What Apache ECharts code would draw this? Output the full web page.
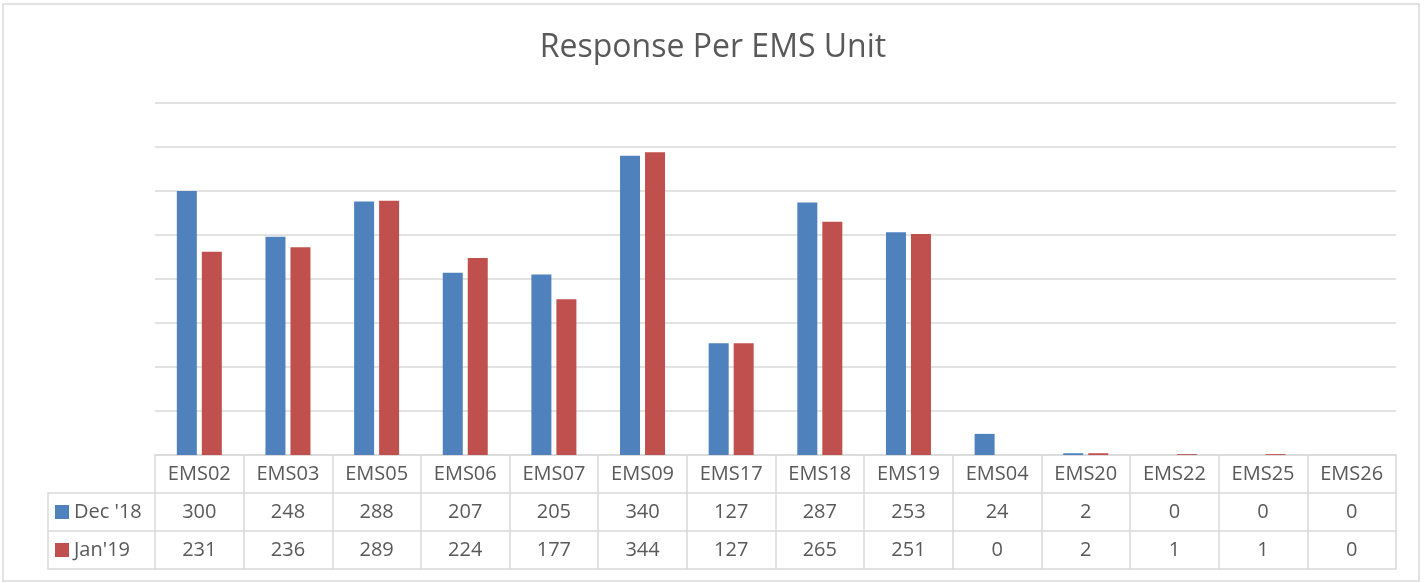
<!DOCTYPE html>
<html>
<head>
<meta charset="utf-8">
<script src="https://cdn.jsdelivr.net/npm/echarts@6/dist/echarts.min.js"></script>
<style>
  html, body { margin: 0; padding: 0; background: #fff; }
  #chart { width: 1426px; height: 583px; }
</style>
</head>
<body>
<div id="chart"></div>
<script>
  // chart data
  var categories = ['EMS02', 'EMS03', 'EMS05', 'EMS06', 'EMS07', 'EMS09', 'EMS17',
    'EMS18', 'EMS19', 'EMS04', 'EMS20', 'EMS22', 'EMS25', 'EMS26']
  var seriesNames = ["Dec '18", "Jan'19"]
  var decValues = [300, 248, 288, 207, 205, 340, 127, 287, 253, 24, 2, 0, 0, 0]
  var janValues = [231, 236, 289, 224, 177, 344, 127, 265, 251, 0, 2, 1, 1, 0]

  var blue = '#4f81bd'
  var red = '#c0504d'
  var lineColor = '#d9d9d9'
  var textColor = '#595959'
  var font = '"Open Sans", "Noto Sans", sans-serif'
  var fontSize = 20

  // table layout (px)
  var gridLeft = 155
  var gridRight = 30
  var gridTop = 103
  var gridBottom = 128
  var rowH = 38
  var tableTop = 583 - gridBottom
  var firstCol = 48

  var chart = echarts.init(document.getElementById('chart'))

  function valueAxis(vals, offset) {
    return {
      type: 'category',
      gridIndex: 0,
      position: 'bottom',
      offset: offset,
      data: categories,
      axisLine: { show: true, lineStyle: { color: lineColor, width: 1.5 } },
      axisTick: { show: false },
      axisLabel: {
        show: vals !== null,
        interval: 0,
        margin: 9,
        color: textColor,
        fontSize: fontSize,
        fontFamily: font,
        formatter: function(v, i) { return vals ? String(vals[i]) : '' }
      }
    }
  }

  chart.setOption({
    title: {
      text: 'Response Per EMS Unit',
      left: 'center',
      top: 27,
      textStyle: { color: textColor, fontSize: 32, fontWeight: 'normal', fontFamily: font }
    },
    legend: [{
      data: [seriesNames[0]],
      left: 55,
      top: 502,
      padding: 0,
      icon: 'rect',
      itemWidth: 14,
      itemHeight: 14,
      textStyle: { color: textColor, fontSize: fontSize, fontFamily: font }
    }, {
      data: [seriesNames[1]],
      left: 55,
      top: 502 + rowH,
      padding: 0,
      icon: 'rect',
      itemWidth: 14,
      itemHeight: 14,
      textStyle: { color: textColor, fontSize: fontSize, fontFamily: font }
    }],
    grid: {
      left: gridLeft,
      right: gridRight,
      top: gridTop,
      bottom: gridBottom
    },
    xAxis: [{
      type: 'category',
      gridIndex: 0,
      data: categories,
      axisLine: { show: true, lineStyle: { color: lineColor, width: 1.5 } },
      axisTick: {
        show: true,
        interval: 0,
        length: rowH * 3,
        lineStyle: { color: lineColor, width: 1.5 }
      },
      axisLabel: {
        interval: 0,
        margin: 9,
        color: textColor,
        fontSize: fontSize,
        fontFamily: font
      }
    },
      valueAxis(decValues, rowH),
      valueAxis(janValues, rowH * 2),
      valueAxis(null, rowH * 3)
    ],
    yAxis: {
      type: 'value',
      min: 0,
      max: 400,
      interval: 50,
      axisLabel: { show: false },
      axisLine: { show: false },
      axisTick: { show: false },
      splitLine: { lineStyle: { color: lineColor, width: 1.5 } }
    },
    series: [{
      name: seriesNames[0],
      type: 'bar',
      xAxisIndex: 0,
      data: decValues,
      barWidth: 20,
      barGap: '25%',
      itemStyle: { color: blue }
    }, {
      name: seriesNames[1],
      type: 'bar',
      xAxisIndex: 0,
      data: janValues,
      barWidth: 20,
      barGap: '25%',
      itemStyle: { color: red }
    }],
    graphic: [{
      // outer chart border
      type: 'rect',
      shape: { x: 3, y: 4, width: 1416, height: 577 },
      style: { fill: null, stroke: lineColor, lineWidth: 1.5 },
      silent: true
    }, {
      // left column cell borders
      type: 'polyline',
      shape: { points: [[gridLeft, tableTop + rowH], [firstCol, tableTop + rowH], [firstCol, tableTop + rowH * 3], [gridLeft, tableTop + rowH * 3]] },
      style: { fill: null, stroke: lineColor, lineWidth: 1.5 },
      silent: true
    }, {
      type: 'line',
      shape: { x1: firstCol, y1: tableTop + rowH * 2, x2: gridLeft, y2: tableTop + rowH * 2 },
      style: { stroke: lineColor, lineWidth: 1.5 },
      silent: true
    }]
  })
</script>
</body>
</html>
